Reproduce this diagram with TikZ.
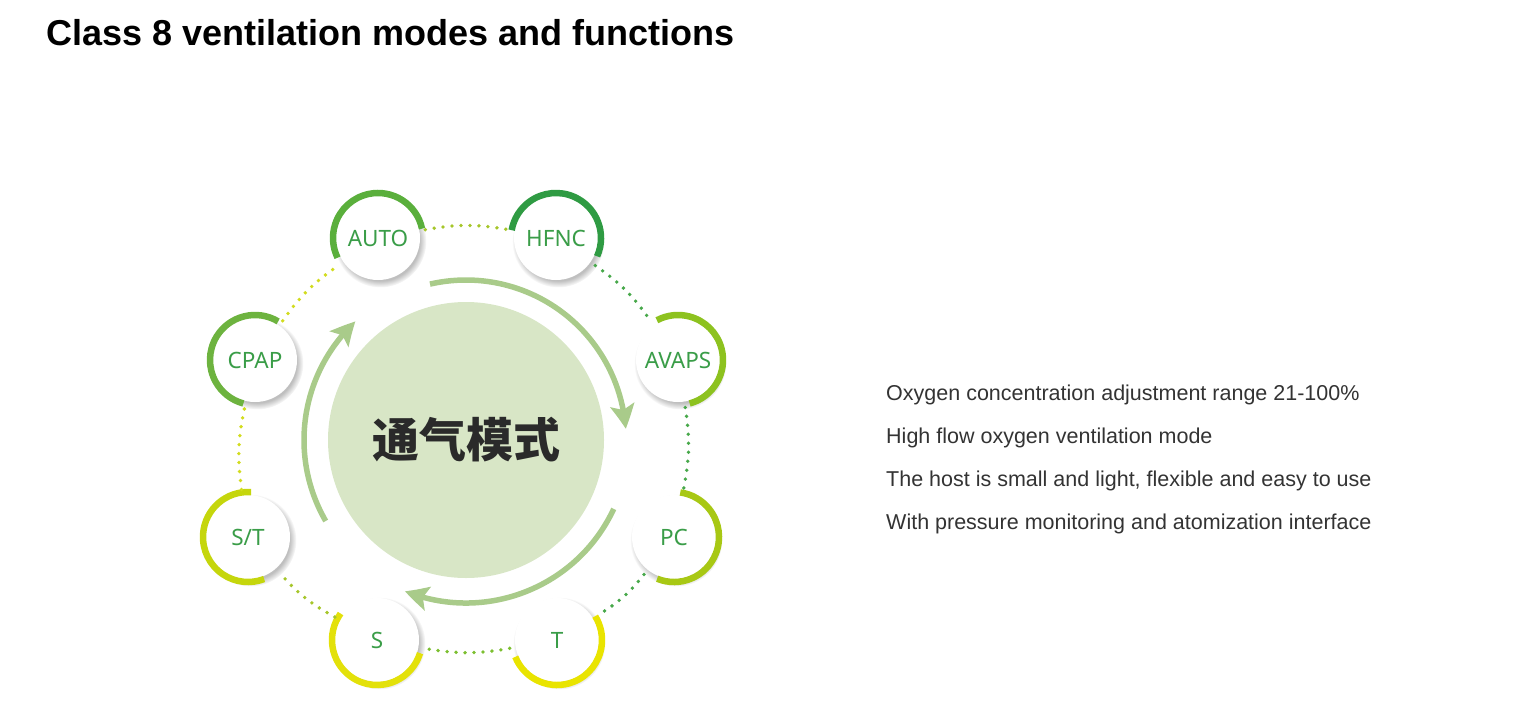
\documentclass[tikz,border=0pt]{standalone}
\usepackage{fontspec}
\setmainfont{Liberation Sans}
\newfontfamily\labelfont{Noto Sans}
\newfontfamily\cjk{Noto Sans CJK SC}
\usetikzlibrary{arrows.meta,bending,shadows}

\definecolor{modetext}{HTML}{3A9D48}
\definecolor{hubfill}{HTML}{D8E6C6}
\definecolor{hubtext}{HTML}{2A2A2A}
\definecolor{flowgreen}{HTML}{A9CB8A}
\definecolor{bodytext}{HTML}{333333}
% ring colours
\definecolor{ringauto}{HTML}{5AAF3C}
\definecolor{ringhfnc}{HTML}{2F9B43}
\definecolor{ringavaps}{HTML}{8DC21F}
\definecolor{ringpc}{HTML}{A8C814}
\definecolor{ringt}{HTML}{E9E400}
\definecolor{rings}{HTML}{E3E10A}
\definecolor{ringst}{HTML}{C5D60C}
\definecolor{ringcpap}{HTML}{6DB33F}
% dot colours
\definecolor{dotlime}{HTML}{A6C62A}
\definecolor{dotgreen}{HTML}{47A84A}
\definecolor{dotmid}{HTML}{7CBF30}
\definecolor{dotyellow}{HTML}{D2DC1E}

\tikzset{
  mode/.style={circle, fill=white, minimum size=84pt, inner sep=0pt, outer sep=6pt, text=modetext,
    font=\labelfont\fontsize{22.5}{26}\selectfont,
    circular drop shadow={shadow xshift=2pt, shadow yshift=-3pt, shadow scale=1.1, opacity=0.5}},
  ring/.style={line width=6.5pt},
  link/.style={line width=3.8pt, dash pattern=on 0pt off 9pt, line cap=round},
  flow/.style={line width=5.5pt, draw=flowgreen, -{Stealth[length=24pt, width=24pt, inset=5pt, bend]}},
  feature/.style={anchor=base west, inner sep=0pt, text=bodytext, font=\fontsize{21.5}{25}\selectfont},
}

\begin{document}
\begin{tikzpicture}[x=1pt,y=1pt]
\useasboundingbox (0,0) rectangle (1530,-717);

\node[anchor=base west, inner sep=0pt, font=\bfseries\fontsize{36}{40}\selectfont] (title) at (46,-46) {Class 8 ventilation modes and functions};

\node[circle, fill=hubfill, minimum size=276pt, inner sep=0pt, text=hubtext, font=\cjk\bfseries\fontsize{47}{50}\selectfont] (hub) at (466,-440) {通气模式};

\path (378,-238) node[mode](auto){AUTO} (556,-238) node[mode](hfnc){HFNC} (678,-360) node[mode](avaps){AVAPS} (674,-537) node[mode](pc){PC} (557,-640) node[mode](t){T} (377,-640) node[mode](s){S} (248,-537) node[mode](st){S/T} (255,-360) node[mode](cpap){CPAP};

\draw[ring, ringauto] ([shift={(12:45)}]auto.center) arc[start angle=12, end angle=206, radius=45];
\draw[ring, ringhfnc] ([shift={(-24:45)}]hfnc.center) arc[start angle=-24, end angle=170, radius=45];
\draw[ring, ringavaps] ([shift={(-75:45)}]avaps.center) arc[start angle=-75, end angle=118, radius=45];
\draw[ring, ringpc] ([shift={(-112:45)}]pc.center) arc[start angle=-112, end angle=82, radius=45];
\draw[ring, ringt] ([shift={(-158:45)}]t.center) arc[start angle=-158, end angle=32, radius=45];
\draw[ring, rings] ([shift={(144:45)}]s.center) arc[start angle=144, end angle=343, radius=45];
\draw[ring, ringst] ([shift={(86:45)}]st.center) arc[start angle=86, end angle=291, radius=45];
\draw[ring, ringcpap] ([shift={(59:45)}]cpap.center) arc[start angle=59, end angle=255, radius=45];

\draw[link, dotlime] (auto) to[bend left=10] (hfnc);
\draw[link, dotgreen] (hfnc) to[bend left=10] (avaps);
\draw[link, dotgreen] (avaps) to[bend left=10] (pc);
\draw[link, dotgreen] (pc) to[bend left=10] (t);
\draw[link, dotmid] (t) to[bend left=10] (s);
\draw[link, dotlime] (s) to[bend left=10] (st);
\draw[link, dotyellow] (st) to[bend left=10] (cpap);
\draw[link, dotyellow] (cpap) to[bend left=10] (auto);

\draw[flow] ([shift={(103:160)}]hub.center) arc[start angle=103, end angle=4, radius=160];
\draw[flow] ([shift={(-25:163)}]hub.center) arc[start angle=-25, end angle=-112, radius=163];
\draw[flow] ([shift={(210:162)}]hub.center) arc[start angle=210, end angle=133, radius=162];

\node[feature] (f1) at (886,-400) {Oxygen concentration adjustment range 21-100\%};
\node[feature] (f2) at (886,-443) {High flow oxygen ventilation mode};
\node[feature] (f3) at (886,-486) {The host is small and light, flexible and easy to use};
\node[feature] (f4) at (886,-529) {With pressure monitoring and atomization interface};
\end{tikzpicture}
\end{document}
